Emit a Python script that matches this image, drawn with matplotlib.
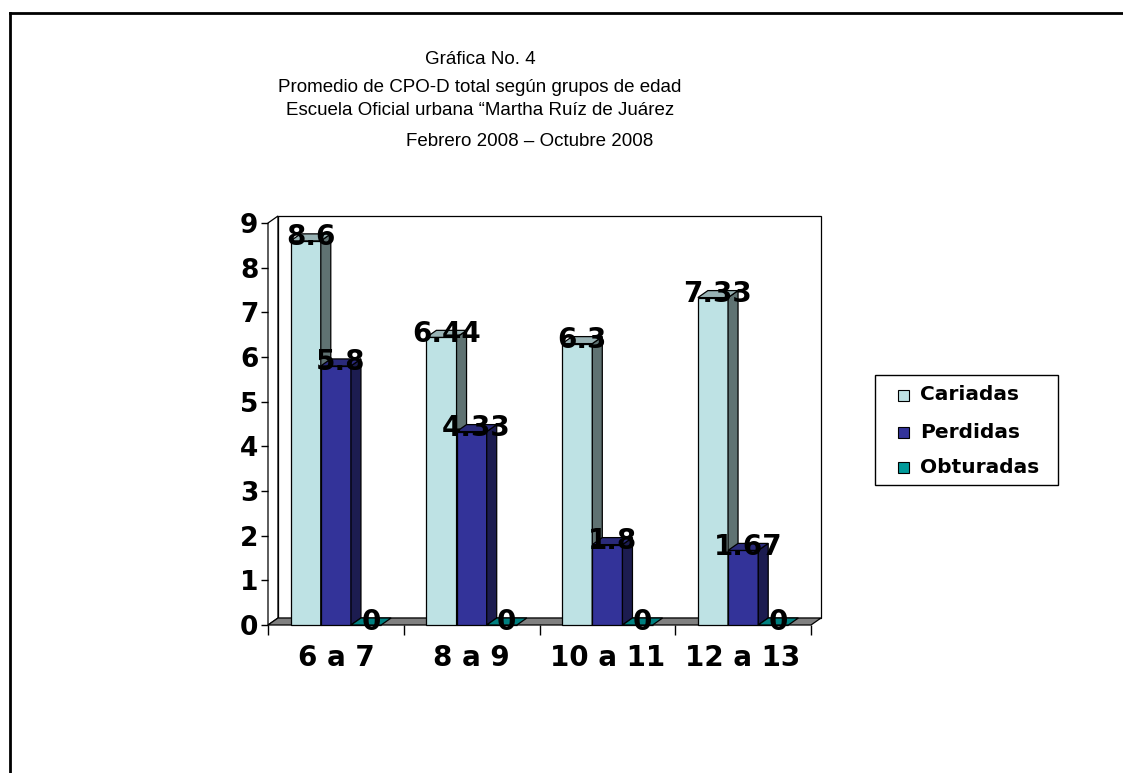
import matplotlib
matplotlib.use("Agg")
import matplotlib.pyplot as plt
from matplotlib.patches import Polygon, Rectangle
from matplotlib.lines import Line2D

# ---------------- data ----------------
categories = ["6 a 7", "8 a 9", "10 a 11", "12 a 13"]
series_names = ["Cariadas", "Perdidas", "Obturadas"]
cariadas = [8.6, 6.44, 6.3, 7.33]
perdidas = [5.8, 4.33, 1.8, 1.67]
obturadas = [0, 0, 0, 0]
y_ticks = [0, 1, 2, 3, 4, 5, 6, 7, 8, 9]
title_lines = ["Gráfica No. 4",
               "Promedio de CPO-D total según grupos de edad",
               "Escuela Oficial urbana “Martha Ruíz de Juárez",
               "Febrero 2008 – Octubre 2008"]

# ---------------- style ----------------
front_colors = ["#BEE2E4", "#333399", "#009999"]
side_colors = ["#5F7272", "#1C1C50", "#006666"]
top_colors = ["#98B2B4", "#2A2A7A", "#008080"]
BOLD = ["DejaVu Sans"]
REG = ["Liberation Sans", "DejaVu Sans"]

W, H = 1123, 773
fig = plt.figure(figsize=(W / 100, H / 100), dpi=100)
fig.patch.set_facecolor("white")


def fx(x):
    return x / W


def fy(y):
    return 1 - y / H


# outer border (top and left edges only are visible)
fig.add_artist(Line2D([fx(10), fx(W + 5)], [fy(13), fy(13)], color="black", lw=2,
                      transform=fig.transFigure))
fig.add_artist(Line2D([fx(10), fx(10)], [fy(13), fy(H + 5)], color="black", lw=2,
                      transform=fig.transFigure))

# title
title_x = [480, 480, 480, 530]
title_y = [64, 92, 115, 146]
title_sizes = [13.5, 13.5, 13.5, 13.5]
for txt, xx, yy, sz in zip(title_lines, title_x, title_y, title_sizes):
    fig.text(fx(xx), fy(yy), txt, ha="center", va="baseline", fontsize=sz,
             family=REG, color="black")

# axes
x0p, x1p, y0p, y1p = 268, 811, 625, 223
ax = fig.add_axes([fx(x0p), fy(y0p), (x1p - x0p) / W, (y0p - y1p) / H])
ncat = len(categories)
ymax = y_ticks[-1]
ax.set_xlim(0, ncat)
ax.set_ylim(0, ymax)
for s in ax.spines.values():
    s.set_visible(False)
ax.patch.set_alpha(0)

dx = 10 * ncat / (x1p - x0p)
dy = 7 * ymax / (y0p - y1p)
lw = 0.9

# walls and floor
ax.add_patch(Polygon([(0, 0), (0, ymax), (dx, ymax + dy), (dx, dy)], closed=True,
                     fc="white", ec="black", lw=lw, clip_on=False, zorder=1))
ax.add_patch(Rectangle((dx, dy), ncat, ymax, fc="white", ec="black", lw=lw,
                       clip_on=False, zorder=1))
ax.add_patch(Polygon([(0, 0), (ncat, 0), (ncat + dx, dy), (dx, dy)], closed=True,
                     fc="#808080", ec="black", lw=lw, clip_on=False, zorder=2))

# bars
gap = 1.5
nser = len(series_names)
bw = 1 / (nser + gap)
all_series = [cariadas, perdidas, obturadas]
z = 3
for i in range(ncat):
    for j, vals in enumerate(all_series):
        h = vals[i]
        xl = i + (gap / 2 + j) * bw
        xr = xl + bw
        ax.add_patch(Rectangle((xl, 0), bw, h, fc=front_colors[j], ec="black", lw=lw,
                               clip_on=False, zorder=z))
        if h > 0:
            ax.add_patch(Polygon([(xr, 0), (xr + dx, dy), (xr + dx, h + dy), (xr, h)],
                                 closed=True, fc=side_colors[j], ec="black", lw=lw,
                                 clip_on=False, zorder=z))
        ax.add_patch(Polygon([(xl, h), (xr, h), (xr + dx, h + dy), (xl + dx, h + dy)],
                             closed=True, fc=top_colors[j], ec="black", lw=lw,
                             clip_on=False, zorder=z))
        z += 1
# value labels on top
for i in range(ncat):
    for j, vals in enumerate(all_series):
        h = vals[i]
        xl = i + (gap / 2 + j) * bw
        ax.text(xl + bw / 2 + dx / 2, h + dy / 2, f"{h:g}", ha="center", va="center",
                fontsize=20, fontweight="bold", family=BOLD, color="black",
                zorder=100, clip_on=False)

# ticks
ax.set_yticks(y_ticks)
ax.set_yticklabels([str(t) for t in y_ticks])
ax.tick_params(axis="y", length=5, width=1, pad=2, labelsize=19, color="black")
for lab in ax.get_yticklabels():
    lab.set_fontweight("bold")
    lab.set_family(BOLD)

ax.set_xticks(range(ncat + 1))
ax.set_xticklabels([""] * (ncat + 1))
ax.tick_params(axis="x", which="major", length=7, width=1, color="black")
ax.set_xticks([k + 0.5 for k in range(ncat)], minor=True)
ax.set_xticklabels(categories, minor=True)
ax.tick_params(axis="x", which="minor", length=0, pad=14, labelsize=20)
for lab in ax.get_xticklabels(minor=True):
    lab.set_fontweight("bold")
    lab.set_family(BOLD)

# legend (drawn like the Excel legend box)
fig.add_artist(Rectangle((fx(875), fy(485)), (1058 - 875) / W, (485 - 375) / H,
                         transform=fig.transFigure, fc="white", ec="black", lw=1))
leg_rows = [395, 432, 468]
for name, yy, c in zip(series_names, leg_rows, front_colors):
    fig.add_artist(Rectangle((fx(898), fy(yy + 5.5)), 11 / W, 11 / H,
                             transform=fig.transFigure, fc=c, ec="black", lw=0.8))
    fig.text(fx(920), fy(yy), name, ha="left", va="center", fontsize=14.5,
             fontweight="bold", family=BOLD)

fig.savefig("out.png", dpi=100)
